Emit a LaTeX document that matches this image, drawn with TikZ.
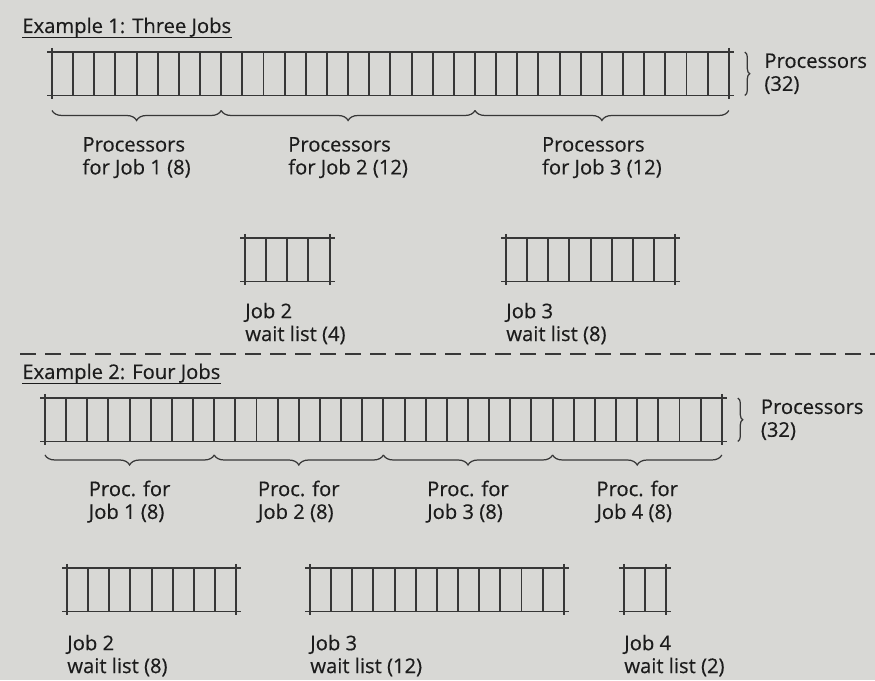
\documentclass[tikz,border=0pt]{standalone}
\usepackage{fontspec}
\setmainfont{Open Sans}[FakeBold=0.4]
\usepackage{tikz}
\usepackage{xcolor}
\usetikzlibrary{positioning, decorations.pathreplacing}
\definecolor{paper}{RGB}{216,216,213}
\definecolor{ink}{RGB}{55,55,55}
\definecolor{txt}{RGB}{28,28,28}
\tikzstyle{cell}      = [rectangle, draw=ink, line width=1.1pt, minimum width=0.423cm,
                         minimum height=0.87cm, inner sep=0pt, outer sep=0pt]
\tikzstyle{edge}      = [draw=ink, line width=1.1pt]
\tikzstyle{brace}     = [decorate, decoration={brace, mirror, amplitude=0.2cm},
                         draw=ink, line width=0.7pt]
\tikzstyle{sidebrace} = [decorate, decoration={brace, amplitude=0.1cm},
                         draw=ink, line width=0.7pt]
\tikzstyle{lbl}       = [align=left, inner sep=0pt, text=txt, font=\fontsize{11.5}{13}\selectfont]
\tikzstyle{title}     = [inner sep=0pt, text=txt, font=\fontsize{11.5}{13}\selectfont]
\tikzstyle{uline}     = [draw=txt, line width=0.6pt]
\tikzstyle{sep}       = [draw=ink, line width=0.7pt, dash pattern=on 0.32cm off 0.18cm]

\begin{document}
\begin{tikzpicture}
  \fill[paper] (0,0) rectangle (17.5,13.6);
  \useasboundingbox (0,0) rectangle (17.5,13.6);

  % example 1
  \node (ex1) [title, anchor=base west] at (0.44,12.94) {Example 1: Three Jobs};
  \draw [uline] ([yshift=-2.5pt]ex1.base west) -- ([yshift=-2.5pt]ex1.base east);

  \node (proc1-1)  [cell, anchor=north west] at (1.04,12.56) {};
  \node (wait12-1) [cell, anchor=north west] at (4.90,8.84)  {};
  \node (wait13-1) [cell, anchor=north west] at (10.12,8.84) {};

  % example 2
  \draw [sep] (0.4,6.52) -- (17.5,6.52);
  \node (ex2) [title, anchor=base west] at (0.44,6.02) {Example 2: Four Jobs};
  \draw [uline] ([yshift=-2.5pt]ex2.base west) -- ([yshift=-2.5pt]ex2.base east);

  \node (proc2-1)  [cell, anchor=north west] at (0.90,5.64)  {};
  \node (wait22-1) [cell, anchor=north west] at (1.34,2.24)  {};
  \node (wait23-1) [cell, anchor=north west] at (6.20,2.24)  {};
  \node (wait24-1) [cell, anchor=north west] at (12.48,2.24) {};

  % cells and corner ticks
  \foreach \row/\n in {proc1/32, wait12/4, wait13/8, proc2/32, wait22/8, wait23/12, wait24/2} {
    \foreach \i [count=\j] in {2,...,\n}
      \node (\row-\i) [cell, right=0pt of \row-\j] {};
    \draw [edge] ([xshift=-0.1cm]\row-1.north west) -- ([xshift=0.1cm]\row-\n.north east);
    \draw [edge] ([xshift=-0.1cm]\row-1.south west) -- ([xshift=0.1cm]\row-\n.south east);
    \draw [edge] ([yshift=0.08cm]\row-1.north west) -- ([yshift=-0.08cm]\row-1.south west);
    \draw [edge] ([yshift=0.08cm]\row-\n.north east) -- ([yshift=-0.08cm]\row-\n.south east);
  }

  \draw [sidebrace] ([xshift=0.32cm]proc1-32.north east) -- node (all1) [lbl, right=0.38cm] {Processors\\(32)} ([xshift=0.32cm]proc1-32.south east);
  \draw [brace] ([yshift=-0.3cm]proc1-1.south west)  -- node (job11) [lbl, below=0.52cm] {Processors\\for Job 1 (8)}  ([yshift=-0.3cm]proc1-8.south east);
  \draw [brace] ([yshift=-0.3cm]proc1-9.south west)  -- node (job12) [lbl, below=0.52cm] {Processors\\for Job 2 (12)} ([yshift=-0.3cm]proc1-20.south east);
  \draw [brace] ([yshift=-0.3cm]proc1-21.south west) -- node (job13) [lbl, below=0.52cm] {Processors\\for Job 3 (12)} ([yshift=-0.3cm]proc1-32.south east);

  \node (wl12) [lbl, below right=0.42cm and 0cm of wait12-1.south west] {Job 2\\wait list (4)};
  \node (wl13) [lbl, below right=0.42cm and 0cm of wait13-1.south west] {Job 3\\wait list (8)};

  \draw [sidebrace] ([xshift=0.32cm]proc2-32.north east) -- node (all2) [lbl, right=0.45cm] {Processors\\(32)} ([xshift=0.32cm]proc2-32.south east);
  \draw [brace] ([yshift=-0.27cm]proc2-1.south west)  -- node (job21) [lbl, below=0.5cm] {Proc. for\\Job 1 (8)} ([yshift=-0.27cm]proc2-8.south east);
  \draw [brace] ([yshift=-0.27cm]proc2-9.south west)  -- node (job22) [lbl, below=0.5cm] {Proc. for\\Job 2 (8)} ([yshift=-0.27cm]proc2-16.south east);
  \draw [brace] ([yshift=-0.27cm]proc2-17.south west) -- node (job23) [lbl, below=0.5cm] {Proc. for\\Job 3 (8)} ([yshift=-0.27cm]proc2-24.south east);
  \draw [brace] ([yshift=-0.27cm]proc2-25.south west) -- node (job24) [lbl, below=0.5cm] {Proc. for\\Job 4 (8)} ([yshift=-0.27cm]proc2-32.south east);

  \node (wl22) [lbl, below right=0.46cm and 0cm of wait22-1.south west] {Job 2\\wait list (8)};
  \node (wl23) [lbl, below right=0.46cm and 0cm of wait23-1.south west] {Job 3\\wait list (12)};
  \node (wl24) [lbl, below right=0.46cm and 0cm of wait24-1.south west] {Job 4\\wait list (2)};
\end{tikzpicture}
\end{document}
